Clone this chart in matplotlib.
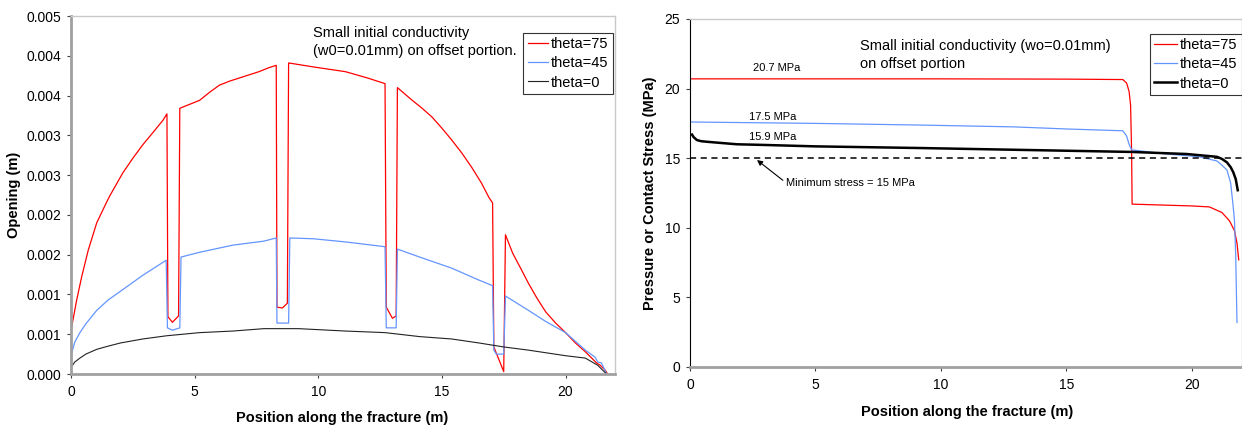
import matplotlib
matplotlib.use("Agg")
import matplotlib.pyplot as plt

plt.rcParams['font.family'] = ['Liberation Sans', 'DejaVu Sans']

# ---------------- Left chart data: opening (m) ----------------
open_x_75 = [0.02, 0.23, 0.43, 0.7, 1.04, 1.44, 1.57, 2.1, 2.52, 2.9, 3.3, 3.72, 3.88,
             3.92, 4.1, 4.35, 4.4,
             4.8, 5.2, 5.6, 6.0, 6.4, 6.8, 7.2, 7.6, 8.0, 8.3,
             8.33, 8.55, 8.75, 8.8,
             9.8, 11.1, 12.0, 12.7,
             12.75, 13.0, 13.15, 13.2,
             13.8, 14.2, 14.6, 15.0, 15.4, 15.8, 16.2, 16.6, 16.9, 17.05,
             17.1, 17.5, 17.57,
             17.86, 18.2, 18.5, 18.85, 19.2, 19.6, 20.0, 20.4, 20.8, 21.25, 21.4, 21.6, 21.7]
open_y_75 = [0.00058, 0.00093, 0.00122, 0.00156, 0.0019, 0.00216, 0.00224, 0.00253, 0.00272, 0.00288, 0.00303, 0.00319, 0.00327,
             0.00072, 0.00065, 0.00073, 0.00334,
             0.00339, 0.00344, 0.00354, 0.00363, 0.00368, 0.00372, 0.00376, 0.0038, 0.00385, 0.00388,
             0.00084, 0.00083, 0.00089, 0.00391,
             0.00386, 0.0038, 0.00372, 0.00365,
             0.00084, 0.0007, 0.00073, 0.0036,
             0.00344, 0.00334, 0.00323, 0.00309, 0.00294, 0.00278, 0.0026, 0.0024, 0.00222, 0.00215,
             0.00034, 0.00003, 0.00175,
             0.00152, 0.00132, 0.00114, 0.00095, 0.00078, 0.00064, 0.00052, 0.00039, 0.00028, 0.00014, 0.00011, 0.00005, 0.0]

open_x_45 = [0.02, 0.15, 0.36, 0.6, 1.04, 1.5, 2.0, 2.9, 3.85,
             3.9, 4.1, 4.4, 4.45,
             5.2, 6.55, 7.8, 8.3,
             8.33, 8.8, 8.85,
             9.8, 11.1, 12.7,
             12.75, 13.15, 13.2,
             14.1, 15.4, 16.5, 17.05,
             17.1, 17.2, 17.5, 17.57,
             18.5, 19.2, 20.0, 20.8, 21.2, 21.3, 21.45, 21.66]
open_y_45 = [0.00025, 0.0004, 0.00052, 0.00063, 0.0008, 0.00093, 0.00104, 0.00124, 0.00143,
             0.00058, 0.00055, 0.00058, 0.00147,
             0.00153, 0.00162, 0.00167, 0.00171,
             0.00064, 0.00064, 0.00171,
             0.0017, 0.00166, 0.0016,
             0.00058, 0.00058, 0.00157,
             0.00147, 0.00133, 0.00118, 0.00111,
             0.0003, 0.00025, 0.00025, 0.00098,
             0.0008, 0.00066, 0.00052, 0.0003, 0.00021, 0.00015, 0.00014, 0.0]

open_x_0 = [0.02, 0.15, 0.36, 0.6, 1.04, 1.5, 2.0, 2.9, 3.85, 5.2, 6.55, 7.8, 9.2, 11.1, 12.7,
            14.1, 15.4, 16.5, 17.5, 18.5, 20.0, 20.8, 21.3, 21.66]
open_y_0 = [0.00009, 0.00015, 0.0002, 0.00025, 0.00031, 0.00035, 0.00039, 0.00044, 0.00048, 0.00052, 0.00054, 0.00057,
            0.00057, 0.00054, 0.00052, 0.00047, 0.00044, 0.00039, 0.00034, 0.0003, 0.00023, 0.0002, 0.00011, 0.0]

left_yticks = [0, 0.0005, 0.001, 0.0015, 0.002, 0.0025, 0.003, 0.0035, 0.004, 0.0045]
left_yticklabels = ['0.000', '0.001', '0.001', '0.002', '0.002', '0.003', '0.003', '0.004', '0.004', '0.005']
xticks = [0, 5, 10, 15, 20]

# ---------------- Right chart data: pressure / contact stress (MPa) ----------------
press_x_75 = [0.05, 5.0, 10.0, 15.0, 17.25, 17.4, 17.5, 17.56, 17.6, 17.62, 20.0, 20.7, 21.2, 21.5, 21.7, 21.8, 21.87]
press_y_75 = [20.7, 20.7, 20.7, 20.68, 20.65, 20.4, 19.8, 18.8, 15.5, 11.7, 11.57, 11.5, 11.1, 10.5, 9.8, 8.9, 7.7]

press_x_45 = [0.05, 5.0, 9.2, 12.9, 15.0, 17.25, 17.4, 17.5, 17.6, 19.0, 20.3, 21.0, 21.2, 21.4, 21.55, 21.65, 21.7, 21.75, 21.78, 21.8]
press_y_45 = [17.6, 17.5, 17.38, 17.25, 17.1, 16.97, 16.6, 16.0, 15.6, 15.3, 15.1, 14.8, 14.5, 14.15, 13.2, 11.5, 10.5, 8.0, 5.0, 3.2]

press_x_0 = [0.08, 0.15, 0.28, 0.45, 0.68, 1.2, 1.87, 3.0, 5.0, 9.2, 13.1, 17.6, 19.8, 21.0, 21.2, 21.4, 21.55, 21.65, 21.75, 21.83]
press_y_0 = [16.7, 16.5, 16.3, 16.22, 16.18, 16.1, 16.0, 15.95, 15.85, 15.73, 15.6, 15.45, 15.3, 15.1, 14.95, 14.7, 14.35, 14.0, 13.5, 12.7]

min_stress = 15
right_yticks = [0, 5, 10, 15, 20, 25]

labels = ['theta=75', 'theta=45', 'theta=0']
RED = '#FF0000'
BLUE = '#6495FF'

fig = plt.figure(figsize=(12.42, 4.30), dpi=100)
W, H = 1242, 430
ax1 = fig.add_axes([71 / W, 1 - 374 / H, (615 - 71) / W, (374 - 16) / H])
ax2 = fig.add_axes([690 / W, 1 - 367 / H, (1242 - 690) / W, (367 - 19) / H])

# ---- left chart ----
ax1.plot(open_x_75, open_y_75, color=RED, lw=0.9, label=labels[0])
ax1.plot(open_x_45, open_y_45, color=BLUE, lw=0.9, label=labels[1])
ax1.plot(open_x_0, open_y_0, color='#222222', lw=0.8, label=labels[2])
ax1.set_xlim(0, 22)
ax1.set_ylim(0, 0.0045)
ax1.set_yticks(left_yticks)
ax1.set_yticklabels(left_yticklabels)
ax1.set_xticks(xticks)

for ax in (ax1, ax2):
    ax.spines['top'].set_color('#C8C8C8')
    ax.spines['top'].set_linewidth(1.0)
    ax.spines['right'].set_color('#C8C8C8')
    ax.spines['right'].set_linewidth(1.0)
    ax.spines['bottom'].set_color('#A0A0A0')
    ax.spines['bottom'].set_linewidth(2.0)
    ax.tick_params(axis='both', direction='out', length=3, width=0.8, color='#404040',
                   labelsize=10, labelcolor='black')
    ax.tick_params(axis='x', pad=5)
    ax.tick_params(axis='y', pad=4)
ax1.spines['left'].set_color('#A0A0A0')
ax1.spines['left'].set_linewidth(2.0)
ax2.spines['left'].set_color('black')
ax2.spines['left'].set_linewidth(0.8)

ax1.text(0.445, 0.972, 'Small initial conductivity\n(w0=0.01mm) on offset portion.',
         transform=ax1.transAxes, ha='left', va='top', fontsize=10.5, linespacing=1.4)

leg1 = ax1.legend(loc='upper right', bbox_to_anchor=(0.996, 0.9525), frameon=True, fancybox=False,
                  edgecolor='black', fontsize=10.5, handlelength=1.4, handletextpad=0.2,
                  labelspacing=0.35, borderpad=0.3, borderaxespad=0)
leg1.get_frame().set_linewidth(0.8)

fig.text(342 / W, 1 - 418 / H, 'Position along the fracture (m)', ha='center', va='center',
         fontsize=10.5, fontweight='bold')
fig.text(14 / W, 1 - 195 / H, 'Opening (m)', ha='center', va='center', rotation=90,
         fontsize=10.5, fontweight='bold')

# ---- right chart ----
ax2.plot(press_x_75, press_y_75, color=RED, lw=0.9, label=labels[0])
ax2.plot(press_x_45, press_y_45, color=BLUE, lw=0.9, label=labels[1])
ax2.plot(press_x_0, press_y_0, color='black', lw=1.8, label=labels[2])
ax2.axhline(min_stress, color='black', lw=1.1, ls=(0, (4, 3)))
ax2.set_xlim(0, 22)
ax2.set_ylim(0, 25)
ax2.set_yticks(right_yticks)
ax2.set_xticks(xticks)

ax2.text(0.308, 0.9425, 'Small initial conductivity (wo=0.01mm)\non offset portion',
         transform=ax2.transAxes, ha='left', va='top', fontsize=10.5, linespacing=1.4)

ax2.text(3.47, 21.48, '20.7 MPa', ha='center', va='center', fontsize=8)
ax2.text(3.31, 17.96, '17.5 MPa', ha='center', va='center', fontsize=8)
ax2.text(3.31, 16.52, '15.9 MPa', ha='center', va='center', fontsize=8)
ax2.annotate('Minimum stress = 15 MPa', xy=(2.67, 14.87), xytext=(6.38, 13.22),
             ha='center', va='center', fontsize=8,
             arrowprops=dict(arrowstyle='-|>', color='black', lw=0.8, mutation_scale=8,
                             shrinkA=0, shrinkB=0, relpos=(0.0, 0.55)))

leg2 = ax2.legend(loc='upper right', bbox_to_anchor=(1.0, 0.957), frameon=True, fancybox=False,
                  edgecolor='black', fontsize=10.5, handlelength=1.6, handletextpad=0.2,
                  labelspacing=0.35, borderpad=0.3, borderaxespad=0)
leg2.get_frame().set_linewidth(0.8)

fig.text(967 / W, 1 - 412 / H, 'Position along the fracture (m)', ha='center', va='center',
         fontsize=10.5, fontweight='bold')
fig.text(650 / W, 1 - 193 / H, 'Pressure or Contact Stress (MPa)', ha='center', va='center',
         rotation=90, fontsize=10.5, fontweight='bold')

fig.savefig('out.png', dpi=100)
